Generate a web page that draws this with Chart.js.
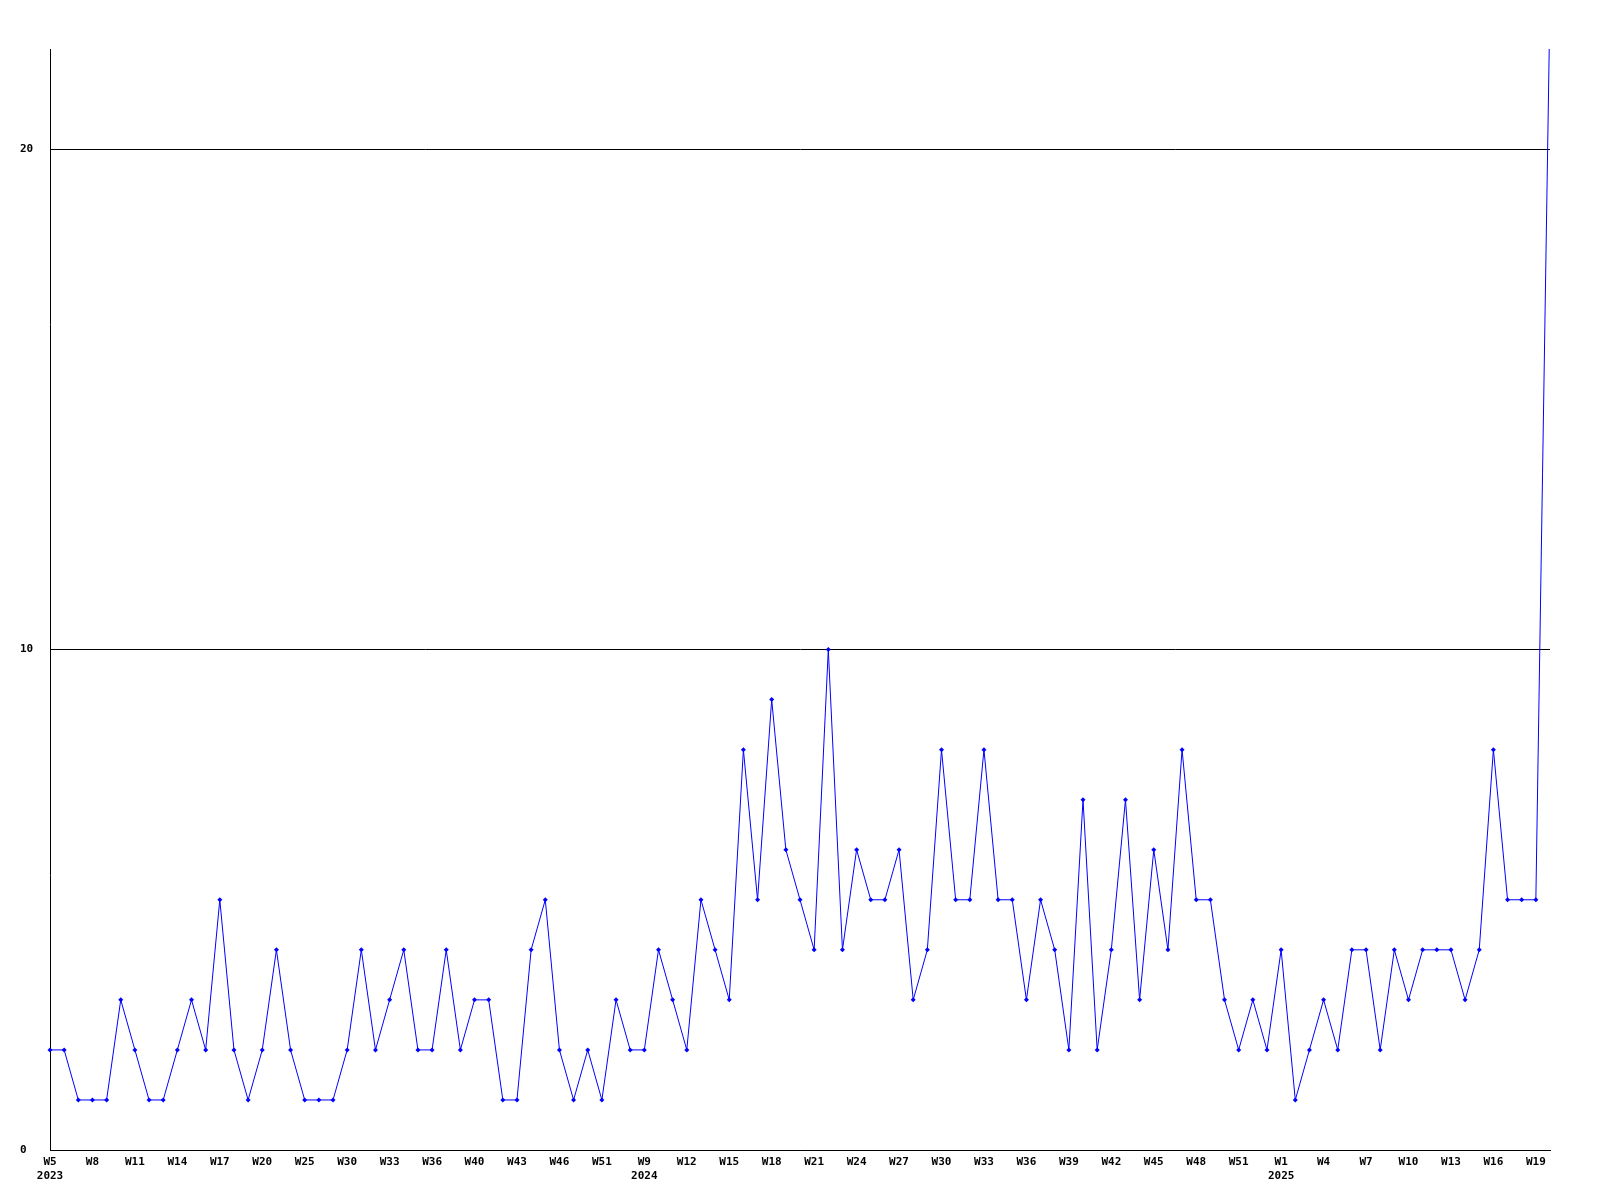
<!DOCTYPE html>
<html>
<head>
<meta charset="UTF-8">
<script src="https://cdn.jsdelivr.net/npm/chart.js"></script>
<style>
  * { margin: 0; padding: 0; }
  body { background: #fff; width: 1600px; height: 1200px; overflow: hidden; }
  #wrap { width: 1600px; height: 1200px; }
</style>
</head>
<body>
<div id="wrap"><canvas id="grafica" width="1600" height="1200"></canvas></div>
<script>
// weekly categories (only every 3rd one is labelled on the axis)
const weeks = [
  'W5','W6','W7','W8','W9','W10','W11','W12','W13','W14','W15','W16','W17','W18','W19',
  'W20','W21','W23','W25','W27','W28','W30','W31','W32','W33','W34','W35','W36','W37','W39',
  'W40','W41','W42','W43','W44','W45','W46','W48','W49','W51','W52','W5','W9','W10','W11',
  'W12','W13','W14','W15','W16','W17','W18','W19','W20','W21','W22','W23','W24','W25','W26',
  'W27','W28','W29','W30','W31','W32','W33','W34','W35','W36','W37','W38','W39','W40','W41',
  'W42','W43','W44','W45','W46','W47','W48','W49','W50','W51','W52','W52','W1','W2','W3',
  'W4','W5','W6','W7','W8','W9','W10','W11','W12','W13','W14','W15','W16','W17','W18',
  'W19','W20'
];
const yearMarks = { 0: '2023', 42: '2024', 87: '2025' };

const values = [
  2, 2, 1, 1, 1, 3, 2, 1, 1, 2, 3, 2, 5, 2, 1,
  2, 4, 2, 1, 1, 1, 2, 4, 2, 3, 4, 2, 2, 4, 2,
  3, 3, 1, 1, 4, 5, 2, 1, 2, 1, 3, 2, 2, 4, 3,
  2, 5, 4, 3, 8, 5, 9, 6, 5, 4, 10, 4, 6, 5, 5,
  6, 3, 4, 8, 5, 5, 8, 5, 5, 3, 5, 4, 2, 7, 2,
  4, 7, 3, 6, 4, 8, 5, 5, 3, 2, 3, 2, 4, 1, 2,
  3, 2, 4, 4, 2, 4, 3, 4, 4, 4, 3, 4, 8, 5, 5,
  5, 23
];

const yTicks = [0, 10, 20];

const monoFont = { family: '"DejaVu Sans Mono", monospace', size: 11, weight: 'bold' };

const ctx = document.getElementById('grafica').getContext('2d');
new Chart(ctx, {
  type: 'line',
  data: {
    labels: weeks,
    datasets: [{
      data: values,
      borderColor: '#0000ff',
      backgroundColor: '#0000ff',
      borderWidth: 1,
      pointStyle: 'rectRot',
      pointRadius: 2.5,
      pointBorderWidth: 0,
      pointBackgroundColor: '#0000ff',
      tension: 0,
      fill: false,
      clip: { left: 5, right: 5, top: 0, bottom: 5 }
    }]
  },
  options: {
    responsive: false,
    animation: false,
    layout: { padding: { left: 20, right: 50, top: 49, bottom: 0 } },
    plugins: { legend: { display: false }, tooltip: { enabled: false } },
    scales: {
      x: {
        offset: false,
        grid: { display: false, drawTicks: false },
        border: { color: '#000', width: 1 },
        ticks: {
          autoSkip: false,
          maxRotation: 0,
          minRotation: 0,
          padding: 6,
          color: '#000',
          font: monoFont,
          callback: function(val, i) {
            if (i % 3 !== 0) return '';
            const w = weeks[i];
            return yearMarks[i] ? [w, yearMarks[i]] : w;
          }
        },
        afterFit: function(scale) { scale.height = 50; }
      },
      y: {
        min: 0,
        max: 22,
        afterBuildTicks: function(scale) {
          scale.ticks = yTicks.map(v => ({ value: v }));
        },
        grid: { color: '#000', lineWidth: 1, drawTicks: false },
        border: { color: '#000', width: 1 },
        ticks: {
          color: '#000',
          font: monoFont,
          crossAlign: 'far',
          padding: 0
        },
        afterFit: function(scale) { scale.width = 30; }
      }
    }
  }
});
</script>
</body>
</html>
